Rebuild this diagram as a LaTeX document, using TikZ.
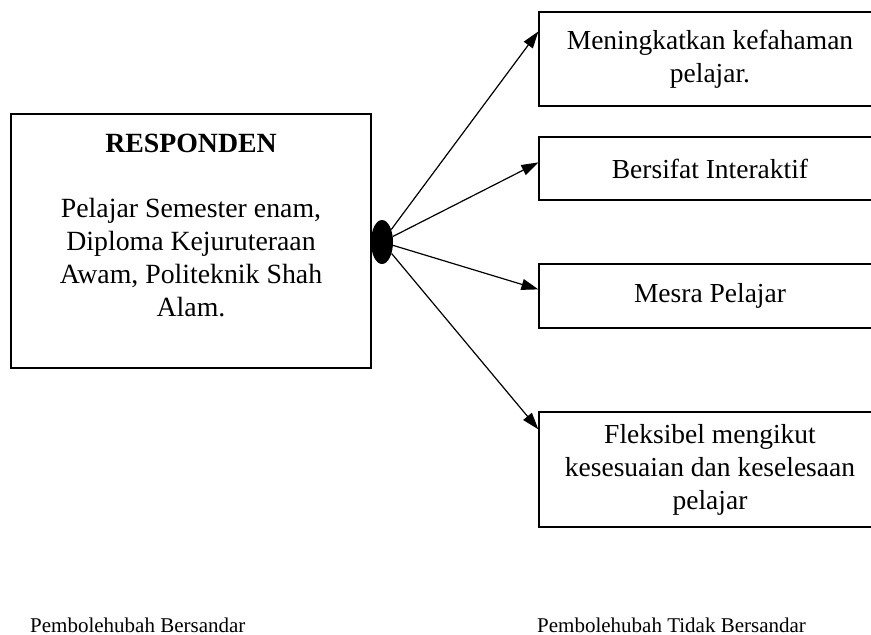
\documentclass[tikz,border=0pt]{standalone}
\usepackage{fontspec}
\setmainfont{Liberation Serif}
\usetikzlibrary{arrows.meta,shapes.geometric}
\begin{document}
\begin{tikzpicture}[x=1pt,y=-1pt,
  box/.style={draw,line width=1.2pt,inner sep=0pt,align=center,font=\fontsize{27.5}{33}\selectfont},
  arr/.style={line width=1.2pt,-{Triangle[length=17pt,width=11pt]}},
  note/.style={font=\fontsize{21}{24}\selectfont,inner sep=0pt}]
\useasboundingbox (0,0) rectangle (871,635);
\clip (0,0) rectangle (871,635);
\node[box,minimum width=360pt,minimum height=254pt] (resp) at (191,241) {};
\node[align=center,inner sep=0pt,font=\fontsize{27.8}{33}\selectfont] (resptext) at (191,225)
  {\textbf{RESPONDEN}\\[32pt]Pelajar Semester enam,\\Diploma Kejuruteraan\\Awam, Politeknik Shah\\Alam.};
\node[ellipse,fill=black,minimum width=22pt,minimum height=44pt,inner sep=0pt] (hub) at (382,242) {};
\node[box,minimum width=342pt,minimum height=94pt] (b1) at (710,59) {Meningkatkan kefahaman\\pelajar.};
\node[box,minimum width=342pt,minimum height=63pt] (b2) at (710,168.5) {Bersifat Interaktif};
\node[box,minimum width=342pt,minimum height=64pt] (b3) at (710,296) {Mesra Pelajar};
\node[box,minimum width=342pt,minimum height=115pt] (b4) at (710,469.5) {Fleksibel mengikut\\kesesuaian dan keselesaan\\pelajar};
\coordinate (t1) at ([yshift=-20pt]b1.north west);
\coordinate (t2) at ([yshift=-26pt]b2.north west);
\coordinate (t3) at ([yshift=-26pt]b3.north west);
\coordinate (t4) at ([yshift=-18pt]b4.north west);
\draw[arr] (hub) -- (t1);
\draw[arr] (hub) -- (t2);
\draw[arr] (hub) -- (t3);
\draw[arr] (hub) -- (t4);
\node[note,anchor=base west] (dep) at (30,632) {Pembolehubah Bersandar};
\node[note,anchor=base west] (indep) at (537,632) {Pembolehubah Tidak Bersandar};
\end{tikzpicture}
\end{document}
